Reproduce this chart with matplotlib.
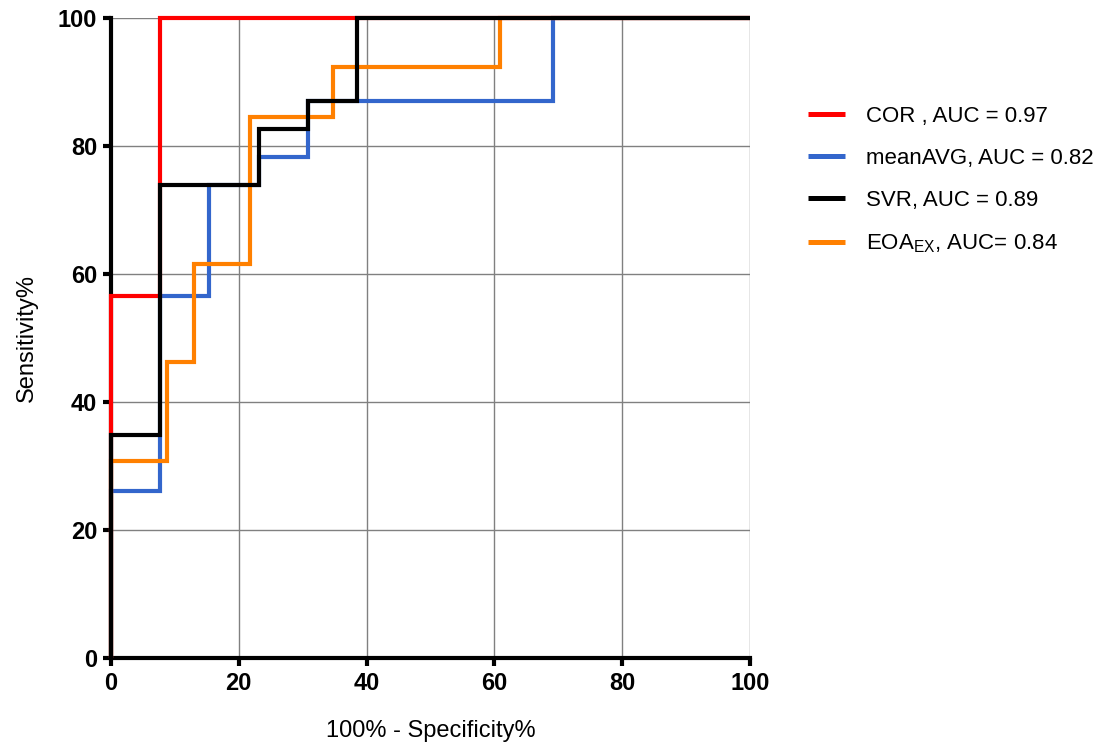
import matplotlib
matplotlib.use("Agg")
import matplotlib.pyplot as plt

plt.rcParams['font.family'] = ['Liberation Sans', 'DejaVu Sans']
plt.rcParams['mathtext.fontset'] = 'custom'
plt.rcParams['mathtext.rm'] = 'Liberation Sans'

# ROC step curves (x = 100% - Specificity%, y = Sensitivity%)
cor_x = [0, 0, 7.7, 7.7, 100]
cor_y = [0, 56.5, 56.5, 100, 100]

mean_x = [0, 0, 7.7, 7.7, 15.4, 15.4, 23.1, 23.1, 30.8, 30.8, 69.2, 69.2, 100]
mean_y = [0, 26.1, 26.1, 56.5, 56.5, 73.9, 73.9, 78.3, 78.3, 87.0, 87.0, 100, 100]

svr_x = [0, 0, 7.7, 7.7, 23.1, 23.1, 30.8, 30.8, 38.5, 38.5, 100]
svr_y = [0, 34.8, 34.8, 73.9, 73.9, 82.6, 82.6, 87.0, 87.0, 100, 100]

eoa_x = [0, 0, 8.7, 8.7, 13.0, 13.0, 21.7, 21.7, 34.8, 34.8, 60.9, 60.9, 100]
eoa_y = [0, 30.8, 30.8, 46.2, 46.2, 61.5, 61.5, 84.6, 84.6, 92.3, 92.3, 100, 100]

labels = ["COR , AUC = 0.97", "meanAVG, AUC = 0.82", "SVR, AUC = 0.89",
          "EOA$_{\\mathregular{EX}}$, AUC= 0.84"]
colors = {"COR": "#ff0000", "meanAVG": "#3366cc", "SVR": "#000000", "EOA": "#ff8000"}

ticks = [0, 20, 40, 60, 80, 100]

fig = plt.figure(figsize=(11.01, 7.49), dpi=100)
ax = fig.add_axes([0.1008, 0.1215, 0.5804, 0.8545])

lw = 3.0
kw = dict(lw=lw, solid_joinstyle='miter', solid_capstyle='butt', clip_on=False)
l_mean, = ax.plot(mean_x, mean_y, color=colors["meanAVG"], zorder=3, **kw)
l_eoa, = ax.plot(eoa_x, eoa_y, color=colors["EOA"], zorder=4, **kw)
l_cor, = ax.plot(cor_x, cor_y, color=colors["COR"], zorder=5, **kw)
l_svr, = ax.plot(svr_x, svr_y, color=colors["SVR"], zorder=6, **kw)

ax.set_xlim(0, 100)
ax.set_ylim(0, 100)
ax.set_xticks(ticks)
ax.set_yticks(ticks)
ax.grid(True, color='#808080', lw=1.0)
ax.set_axisbelow(True)
for s in ['top', 'right']:
    ax.spines[s].set_visible(False)
for s in ['left', 'bottom']:
    ax.spines[s].set_linewidth(3.0)
    ax.spines[s].set_zorder(2.5)
ax.tick_params(direction='out', length=6, width=3.0, labelsize=17, pad=4)
for t in ax.get_xticklabels() + ax.get_yticklabels():
    t.set_fontweight('bold')

ax.set_xlabel("100% - Specificity%", fontsize=17, labelpad=18)
ax.set_ylabel("Sensitivity%", fontsize=17, labelpad=14)

leg = fig.legend([l_cor, l_mean, l_svr, l_eoa], labels, loc='upper left',
                 bbox_to_anchor=(0.7339, 0.859), frameon=False, fontsize=16,
                 handlelength=1.65, handletextpad=0.95, labelspacing=0.96,
                 borderpad=0, borderaxespad=0)
for h in leg.legend_handles:
    h.set_linewidth(3.6)

fig.savefig("out.png", dpi=100)
